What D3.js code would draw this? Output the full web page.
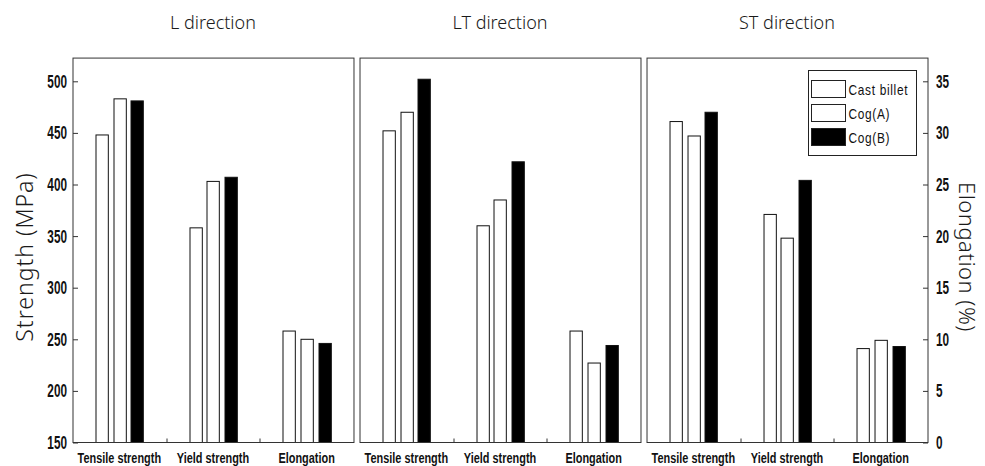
<!DOCTYPE html>
<html>
<head>
<meta charset="utf-8">
<script src="https://cdn.jsdelivr.net/npm/d3@7"></script>
<style>
  body { margin: 0; background: #fff; }
  .tick-lab { font-family: "Liberation Sans", Arial, sans-serif; font-weight: bold; fill: #111; }
  .title { font-family: "Noto Sans", "DejaVu Sans", sans-serif; fill: #1a1a1a; }
</style>
</head>
<body>
<div id="chart"></div>
<script>
var directions = ['L direction', 'LT direction', 'ST direction'];
var categories = ['Tensile strength', 'Yield strength', 'Elongation'];
var series = ['Cast billet', 'Cog(A)', 'Cog(B)'];
var seriesFill = ['#fff', '#fff', '#000'];

// strength in MPa, elongation in %
var tensile = [[448, 483, 481], [452, 470, 502], [461, 447, 470]];
var yieldS  = [[358, 403, 407], [360, 385, 422], [371, 348, 404]];
var elong   = [[10.8, 10.0, 9.6], [10.8, 7.7, 9.4], [9.1, 9.9, 9.3]];

var strengthTicks = [150, 200, 250, 300, 350, 400, 450, 500];
var elongTicks = [0, 5, 10, 15, 20, 25, 30, 35];

var width = 985, height = 466;
var bottom = 442.5;

var svg = d3.select('#chart').append('svg')
    .attr('width', width)
    .attr('height', height);

var yScale = d3.scaleLinear()
    .domain([150, 500])
    .range([bottom, 81.3]);

var yElong = d3.scaleLinear()
    .domain([0, 35])
    .range([bottom, 81.3]);

var topY = yScale(522.5);

var panelScale = d3.scaleBand()
    .domain(directions)
    .range([72.5, 927.5])
    .paddingInner(0.021);

var catScale = d3.scaleBand()
    .domain(categories)
    .range([0, panelScale.bandwidth()]);

var barScale = d3.scaleBand()
    .domain(series)
    .range([(catScale.bandwidth() - 47.5) / 2, (catScale.bandwidth() + 47.5) / 2])
    .paddingInner(0.3);

// narrow text: squeeze horizontally
function narrowText(sel, x, y, str, size, sx, anchor) {
  return sel.append('text')
    .attr('class', 'tick-lab')
    .attr('transform', 'translate(' + x + ',' + y + ') scale(' + sx + ',1)')
    .attr('text-anchor', anchor)
    .style('font-size', size + 'px')
    .text(str);
}

directions.forEach(function(dir, i) {
  var x0 = panelScale(dir);
  var g = svg.append('g').attr('transform', 'translate(' + x0 + ',0)');

  var rows = [];
  categories.forEach(function(cat, c) {
    series.forEach(function(s, k) {
      var v, yv;
      if (c == 0) { v = tensile[i][k]; yv = yScale(v); }
      else if (c == 1) { v = yieldS[i][k]; yv = yScale(v); }
      else { v = elong[i][k]; yv = yElong(v); }
      rows.push({ cat: cat, s: s, k: k, y: yv });
    });
  });

  g.selectAll('rect.bar')
    .data(rows)
    .enter().append('rect')
    .attr('class', 'bar')
    .attr('x', function(d) { return Math.round(catScale(d.cat) + barScale(d.s)) + 0.5; })
    .attr('y', function(d) { return d.y; })
    .attr('width', barScale.bandwidth())
    .attr('height', function(d) { return bottom - d.y; })
    .style('fill', function(d) { return seriesFill[d.k]; })
    .style('stroke', '#111')
    .style('stroke-width', 1);

  // frame
  g.append('rect')
    .attr('x', 0.5)
    .attr('y', topY)
    .attr('width', panelScale.bandwidth())
    .attr('height', bottom - topY)
    .style('fill', 'none')
    .style('stroke', '#333')
    .style('stroke-width', 1);

  // small ticks between categories
  g.selectAll('line.sep')
    .data(categories.slice(1))
    .enter().append('line')
    .attr('x1', function(d) { return Math.round(catScale(d)) + 0.5; })
    .attr('x2', function(d) { return Math.round(catScale(d)) + 0.5; })
    .attr('y1', bottom)
    .attr('y2', bottom - 4)
    .style('stroke', '#333');

  categories.forEach(function(cat) {
    narrowText(g, catScale(cat) + catScale.bandwidth() / 2, 463, cat, 14, 0.78, 'middle');
  });

  svg.append('text')
    .attr('class', 'title')
    .attr('x', x0 + panelScale.bandwidth() / 2)
    .attr('y', 29)
    .attr('text-anchor', 'middle')
    .style('font-size', '18px')
    .style('font-weight', 300)
    .text(dir);
});

// left axis
var leftX = panelScale(directions[0]) + 0.5;
var leftAxis = svg.append('g').attr('transform', 'translate(' + leftX + ',0)');
leftAxis.call(d3.axisRight(yScale).tickValues(d3.range(150, 521, 10)).tickSize(2).tickFormat(''));
leftAxis.call(d3.axisRight(yScale).tickValues(strengthTicks).tickSize(5).tickFormat(''));
leftAxis.selectAll('.domain').remove();
leftAxis.selectAll('line').style('stroke', '#333');

strengthTicks.forEach(function(t) {
  narrowText(svg, leftX - 6, yScale(t) + 6.5, t, 19, 0.62, 'end');
});

// right axis
var last = directions[directions.length - 1];
var rightX = panelScale(last) + panelScale.bandwidth() + 0.5;
var rightAxis = svg.append('g').attr('transform', 'translate(' + rightX + ',0)');
rightAxis.call(d3.axisLeft(yElong).tickValues(d3.range(0, 37, 1)).tickSize(2).tickFormat(''));
rightAxis.call(d3.axisLeft(yElong).tickValues(elongTicks).tickSize(5).tickFormat(''));
rightAxis.selectAll('.domain').remove();
rightAxis.selectAll('line').style('stroke', '#333');

elongTicks.forEach(function(t) {
  narrowText(svg, rightX + 8, yElong(t) + 6.5, t, 19, 0.62, 'start');
});

svg.append('text')
  .attr('class', 'title')
  .attr('text-anchor', 'middle')
  .attr('transform', 'translate(33,' + 257 + ')rotate(-90)')
  .style('font-size', '23px')
  .style('letter-spacing', '1px')
  .style('font-weight', 300)
  .text('Strength (MPa)');

svg.append('text')
  .attr('class', 'title')
  .attr('text-anchor', 'middle')
  .attr('transform', 'translate(959,' + 257 + ')rotate(90)')
  .style('font-size', '22px')
  .style('letter-spacing', '0.5px')
  .style('font-weight', 300)
  .text('Elongation (%)');

// legend
var legend = svg.append('g').attr('transform', 'translate(808.5,70.5)');
legend.append('rect')
  .attr('width', 108)
  .attr('height', 85)
  .style('fill', '#fff')
  .style('stroke', '#222');

var items = legend.selectAll('g.item')
  .data(series)
  .enter().append('g')
  .attr('transform', function(d, i) { return 'translate(3,' + (10 + i * 24) + ')'; });

items.append('rect')
  .attr('width', 34)
  .attr('height', 17)
  .style('fill', function(d, i) { return seriesFill[i]; })
  .style('stroke', '#222');

items.append('text')
  .attr('transform', 'translate(37,14) scale(0.85,1)')
  .style('font-family', '"Liberation Sans", Arial, sans-serif')
  .style('font-size', '14px')
  .style('letter-spacing', '0.8px')
  .style('fill', '#111')
  .text(function(d) { return d; });
</script>
</body>
</html>
